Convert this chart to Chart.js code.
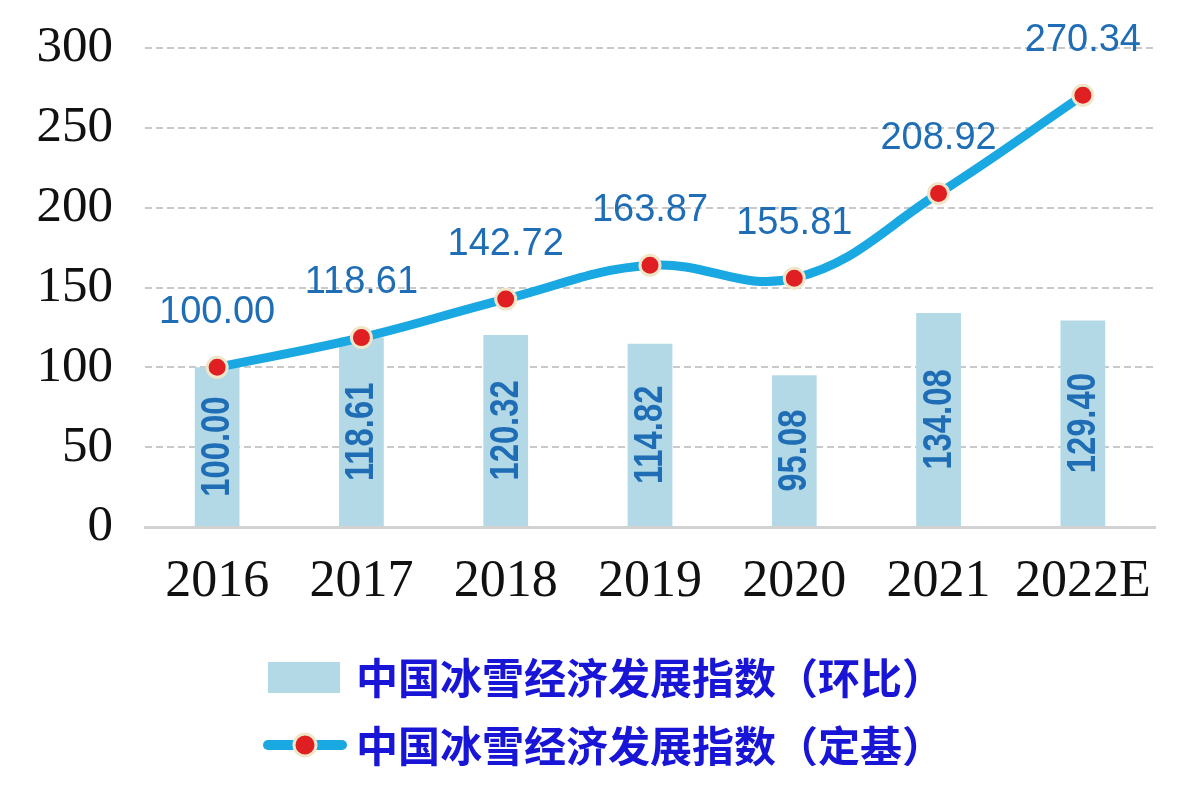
<!DOCTYPE html>
<html>
<head>
<meta charset="utf-8">
<script src="https://cdn.jsdelivr.net/npm/chart.js@4"></script>
<style>
  body { margin: 0; background: #fff; }
  #wrap { width: 1198px; height: 809px; position: relative; }
</style>
</head>
<body>
<div id="wrap"><canvas id="mycanvas"></canvas></div>
<script>
var years = ['2016', '2017', '2018', '2019', '2020', '2021', '2022E'];
var ringIndex = [100.00, 118.61, 120.32, 114.82, 95.08, 134.08, 129.40];   // 环比
var baseIndex = [100.00, 118.61, 142.72, 163.87, 155.81, 208.92, 270.34];  // 定基
var yTicks = [0, 50, 100, 150, 200, 250, 300];
var legendNames = ['中国冰雪经济发展指数（环比）', '中国冰雪经济发展指数（定基）'];

var barColor = '#b3d9e7';
var lineColor = '#19a8e2';
var labelBlue = '#1f6db5';

// value labels: above line points, rotated inside bars
var labelsPlugin = {
	id: 'valueLabels',
	afterDatasetsDraw: function(chart) {
		var ctx = chart.ctx;
		ctx.save();
		var barMeta = chart.getDatasetMeta(0);
		barMeta.data.forEach(function(bar, i) {
			var midY = (bar.y + bar.base) / 2;
			ctx.save();
			ctx.translate(bar.x, midY);
			ctx.rotate(-Math.PI / 2);
			ctx.scale(0.82, 1);
			ctx.font = 'bold 40px "Liberation Sans", Arial, sans-serif';
			ctx.fillStyle = labelBlue;
			ctx.textAlign = 'center';
			ctx.textBaseline = 'middle';
			ctx.fillText(ringIndex[i].toFixed(2), 0, 1);
			ctx.restore();
		});
		var lineMeta = chart.getDatasetMeta(1);
		ctx.font = '38px "Liberation Sans", Arial, sans-serif';
		ctx.fillStyle = labelBlue;
		ctx.textAlign = 'center';
		ctx.textBaseline = 'middle';
		lineMeta.data.forEach(function(pt, i) {
			ctx.fillText(baseIndex[i].toFixed(2), pt.x, pt.y - 55);
		});
		ctx.restore();
	}
};

// two-row legend under the axis
var legendPlugin = {
	id: 'customLegend',
	afterDraw: function(chart) {
		var ctx = chart.ctx;
		ctx.save();
		ctx.fillStyle = barColor;
		ctx.fillRect(268, 662, 72, 31);

		ctx.strokeStyle = lineColor;
		ctx.lineWidth = 10;
		ctx.lineCap = 'round';
		ctx.beginPath();
		ctx.moveTo(268, 745);
		ctx.lineTo(342, 745);
		ctx.stroke();
		ctx.beginPath();
		ctx.arc(305, 745, 11, 0, Math.PI * 2);
		ctx.fillStyle = '#e01f22';
		ctx.fill();
		ctx.lineWidth = 3;
		ctx.strokeStyle = '#efe6c9';
		ctx.stroke();

		ctx.font = 'bold 42px "Noto Sans CJK SC", sans-serif';
		ctx.fillStyle = '#1815d6';
		ctx.textAlign = 'left';
		ctx.textBaseline = 'middle';
		ctx.fillText(legendNames[0], 356, 678);
		ctx.fillText(legendNames[1], 356, 746);
		ctx.restore();
	}
};

var ctx = document.getElementById('mycanvas');

new Chart(ctx, {
	data: {
		labels: years,
		datasets: [
			{
				type: 'bar',
				label: legendNames[0],
				data: ringIndex,
				backgroundColor: barColor,
				barPercentage: 0.31,
				categoryPercentage: 1,
				order: 2
			},
			{
				type: 'line',
				label: legendNames[1],
				data: baseIndex,
				borderColor: lineColor,
				borderWidth: 9,
				tension: 0.4,
				pointRadius: 10,
				pointBorderWidth: 3,
				pointBackgroundColor: '#e01f22',
				pointBorderColor: '#efe6c9',
				order: 1
			}
		]
	},
	options: {
		responsive: true,
		maintainAspectRatio: false,
		animation: false,
		layout: { padding: { top: 48, right: 43, left: 0, bottom: 0 } },
		plugins: {
			legend: { display: false },
			tooltip: { enabled: false }
		},
		scales: {
			x: {
				grid: { display: false },
				border: { display: true, color: '#d2d2d2', width: 3 },
				ticks: {
					color: '#111',
					padding: 16,
					font: { family: '"Liberation Serif", "Times New Roman", serif', size: 52 }
				},
				afterFit: function(scale) { scale.height = 282; }
			},
			y: {
				min: 0,
				max: 300,
				afterBuildTicks: function(scale) {
					scale.ticks = yTicks.map(function(v) { return { value: v }; });
				},
				grid: {
					drawTicks: false,
					color: function(c) { return c.tick && c.tick.value === 0 ? 'rgba(0,0,0,0)' : '#c9c9c9'; },
					lineWidth: 2
				},
				border: { display: false, dash: [7, 4] },
				ticks: {
					color: '#111',
					padding: 32,
					font: { family: '"Liberation Serif", "Times New Roman", serif', size: 51 }
				},
				afterFit: function(scale) {
					scale.width = 145;
					scale.paddingTop = 0;
					scale.paddingBottom = 0;
				}
			}
		}
	},
	plugins: [labelsPlugin, legendPlugin]
});
</script>
</body>
</html>
